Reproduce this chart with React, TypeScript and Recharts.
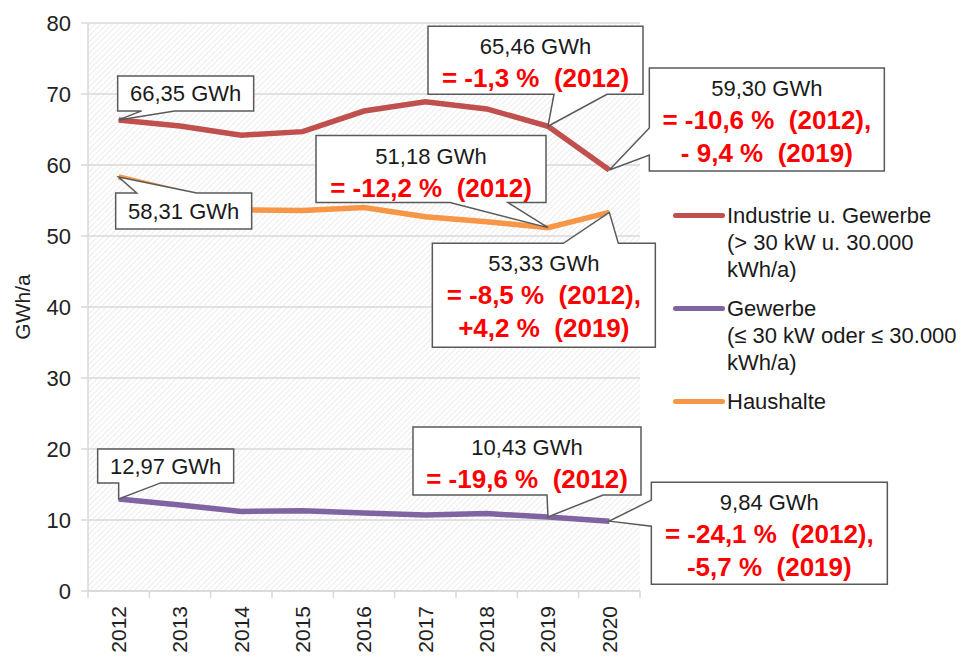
import React from "react";
import {
  LineChart,
  Line,
  XAxis,
  YAxis,
  CartesianGrid,
  Legend,
} from "recharts";

// data
const years = ["2012", "2013", "2014", "2015", "2016", "2017", "2018", "2019", "2020"];
const industrie = [66.35, 65.5, 64.2, 64.7, 67.6, 68.9, 67.9, 65.46, 59.3];
const gewerbe = [12.97, 12.1, 11.2, 11.3, 11.0, 10.7, 10.9, 10.43, 9.84];
const haushalte = [58.31, 56.2, 53.7, 53.6, 54.0, 52.7, 52.0, 51.18, 53.33];
const yTicks = [0, 10, 20, 30, 40, 50, 60, 70, 80];

const industrieLabel = ["Industrie u. Gewerbe", "(> 30 kW u. 30.000", "kWh/a)"];
const gewerbeLabel = ["Gewerbe", "(≤ 30 kW oder ≤ 30.000", "kWh/a)"];
const haushalteLabel = ["Haushalte"];

// callout texts per series, keyed by year index
const industrieNotes: Record<number, string[]> = {
  0: ["66,35 GWh"],
  7: ["65,46 GWh", "= -1,3 %  (2012)"],
  8: ["59,30 GWh", "= -10,6 %  (2012),", "- 9,4 %  (2019)"],
};
const haushalteNotes: Record<number, string[]> = {
  0: ["58,31 GWh"],
  7: ["51,18 GWh", "= -12,2 %  (2012)"],
  8: ["53,33 GWh", "= -8,5 %  (2012),", "+4,2 %  (2019)"],
};
const gewerbeNotes: Record<number, string[]> = {
  0: ["12,97 GWh"],
  7: ["10,43 GWh", "= -19,6 %  (2012)"],
  8: ["9,84 GWh", "= -24,1 %  (2012),", "-5,7 %  (2019)"],
};

const data = years.map((year, i) => ({
  year,
  industrie: industrie[i],
  gewerbe: gewerbe[i],
  haushalte: haushalte[i],
}));

const RED = "#C0504D";
const PURPLE = "#8064A2";
const ORANGE = "#F79646";
const GRID = "#d9d9d9";
const FONT = '"Liberation Sans", Arial, Helvetica, sans-serif';

const CHART_W = 980;
const CHART_H = 658;
const MARGIN = { top: 23, right: 340, bottom: 0, left: 0 };
const Y_W = 88;
const PLOT_W = CHART_W - MARGIN.left - MARGIN.right - Y_W;

type Side = "top" | "bottom" | "left";
interface BubbleLayout {
  dx: number;
  dy: number;
  w: number;
  h: number;
  side: Side;
  a1: number;
  a2: number;
}

// box position relative to the data point, tail base along one side
const industrieBoxes: Record<number, BubbleLayout> = {
  0: { dx: -1, dy: -44, w: 136, h: 35, side: "bottom", a1: 24, a2: 57 },
  7: { dx: -120, dy: -100, w: 215, h: 68, side: "bottom", a1: 126, a2: 179 },
  8: { dx: 40, dy: -102, w: 235, h: 103, side: "left", a1: 60, a2: 87 },
};
const haushalteBoxes: Record<number, BubbleLayout> = {
  0: { dx: -3, dy: 16, w: 136, h: 36, side: "top", a1: 21, a2: 81 },
  7: { dx: -232, dy: -92, w: 230, h: 67, side: "bottom", a1: 134, a2: 192 },
  8: { dx: -177, dy: 31, w: 223, h: 104, side: "top", a1: 131, a2: 186 },
};
const gewerbeBoxes: Record<number, BubbleLayout> = {
  0: { dx: -21, dy: -50, w: 136, h: 34, side: "bottom", a1: 21, a2: 63 },
  7: { dx: -135, dy: -90, w: 228, h: 68, side: "bottom", a1: 134, a2: 190 },
  8: { dx: 42, dy: -39, w: 236, h: 102, side: "left", a1: 18, a2: 44 },
};

function bubblePath(px: number, py: number, b: BubbleLayout) {
  const x = px + b.dx;
  const y = py + b.dy;
  const r = x + b.w;
  const btm = y + b.h;
  if (b.side === "bottom") {
    return `M${x},${y}H${r}V${btm}H${x + b.a2}L${px},${py}L${x + b.a1},${btm}H${x}Z`;
  }
  if (b.side === "top") {
    return `M${x},${y}H${x + b.a1}L${px},${py}L${x + b.a2},${y}H${r}V${btm}H${x}Z`;
  }
  return `M${x},${y}H${r}V${btm}H${x}V${y + b.a2}L${px},${py}L${x},${y + b.a1}Z`;
}

function makeCallout(notes: Record<number, string[]>, boxes: Record<number, BubbleLayout>) {
  return (props: any) => {
    const idx = props.index;
    const lines = notes[idx];
    const box = boxes[idx];
    const px = props.x ?? props.viewBox?.x;
    const py = props.y ?? props.viewBox?.y;
    if (!lines || !box || px == null || py == null) return <g />;
    const bx = px + box.dx;
    const by = py + box.dy;
    const cx = bx + box.w / 2;
    return (
      <g>
        <path d={bubblePath(px, py, box)} fill="#fff" stroke="#595959" strokeWidth={1.5} />
        {lines.map((t, i) => (
          <text
            key={i}
            x={cx}
            y={lines.length === 1 ? by + box.h / 2 + 8 : by + 28 + i * 33}
            textAnchor="middle"
            fontSize={i === 0 ? 22 : 26}
            fontWeight={i === 0 ? 400 : 700}
            fill={i === 0 ? "#1a1a1a" : "#ff0000"}
            style={{ whiteSpace: "pre" }}
          >
            {t}
          </text>
        ))}
      </g>
    );
  };
}

function YearTick({ x, y, payload, index }: any) {
  const bw = PLOT_W / years.length;
  return (
    <g>
      <line x1={x - bw / 2} x2={x - bw / 2} y1={y} y2={y + 7} stroke={GRID} strokeWidth={1.5} />
      {index === years.length - 1 && (
        <line x1={x + bw / 2} x2={x + bw / 2} y1={y} y2={y + 7} stroke={GRID} strokeWidth={1.5} />
      )}
      <text
        x={x}
        y={y + 15}
        dy="0.35em"
        textAnchor="end"
        fontSize={21}
        fill="#222"
        transform={`rotate(-90, ${x}, ${y + 15})`}
      >
        {payload.value}
      </text>
    </g>
  );
}

const legendItems = [
  { lines: industrieLabel, color: RED },
  { lines: gewerbeLabel, color: PURPLE },
  { lines: haushalteLabel, color: ORANGE },
];

function LegendBox() {
  return (
    <div style={{ fontFamily: FONT, fontSize: 22, color: "#1a1a1a", lineHeight: "27px" }}>
      {legendItems.map((item, i) => (
        <div key={i} style={{ display: "flex", alignItems: "flex-start", marginBottom: 12 }}>
          <div
            style={{
              width: 52,
              height: 5,
              marginTop: 11,
              borderRadius: 3,
              background: item.color,
              flexShrink: 0,
            }}
          />
          <div style={{ marginLeft: 2, whiteSpace: "nowrap" }}>
            {item.lines.map((l, j) => (
              <div key={j}>{l}</div>
            ))}
          </div>
        </div>
      ))}
    </div>
  );
}

export default function App() {
  return (
    <div
      style={{
        position: "absolute",
        left: 0,
        top: 0,
        width: CHART_W,
        height: CHART_H,
        background: "#fff",
        fontFamily: FONT,
      }}
    >
      <LineChart width={CHART_W} height={CHART_H} data={data} margin={MARGIN}>
        <defs>
          <pattern
            id="hatch"
            width="4"
            height="4"
            patternUnits="userSpaceOnUse"
            patternTransform="rotate(45)"
          >
            <rect width="4" height="4" fill="#fff" />
            <line x1="0" y1="0" x2="0" y2="4" stroke="#e4e4e4" strokeWidth="1.4" />
          </pattern>
        </defs>
        <CartesianGrid vertical={false} stroke={GRID} strokeWidth={1.5} fill="url(#hatch)" />
        <XAxis
          dataKey="year"
          scale="band"
          interval={0}
          height={67}
          tickSize={0}
          tickMargin={0}
          tickLine={false}
          axisLine={{ stroke: GRID, strokeWidth: 1.5 }}
          tick={<YearTick />}
        />
        <YAxis
          domain={[0, 80]}
          ticks={yTicks}
          interval={0}
          width={Y_W}
          tickSize={7}
          tickMargin={10}
          axisLine={{ stroke: GRID, strokeWidth: 1.5 }}
          tickLine={{ stroke: GRID, strokeWidth: 1.5 }}
          tick={{ fill: "#222", fontSize: 22 }}
          label={(p: any) => {
            const vb = p.viewBox || { x: 0, y: MARGIN.top, width: Y_W, height: 568 };
            const cy = vb.y + vb.height / 2;
            return (
              <text
                x={23}
                y={cy}
                textAnchor="middle"
                dy="0.35em"
                fill="#222"
                style={{ fontSize: 21 }}
                transform={`rotate(-90, 23, ${cy})`}
              >
                GWh/a
              </text>
            );
          }}
        />
        <Legend
          layout="horizontal"
          verticalAlign="middle"
          align="center"
          wrapperStyle={{ left: 673, top: 202, width: 300 }}
          content={() => <LegendBox />}
        />
        <Line
          dataKey="industrie"
          stroke={RED}
          strokeWidth={5.5}
          dot={false}
          activeDot={false}
          isAnimationActive={false}
          label={makeCallout(industrieNotes, industrieBoxes)}
        />
        <Line
          dataKey="gewerbe"
          stroke={PURPLE}
          strokeWidth={5.5}
          dot={false}
          activeDot={false}
          isAnimationActive={false}
          label={makeCallout(gewerbeNotes, gewerbeBoxes)}
        />
        <Line
          dataKey="haushalte"
          stroke={ORANGE}
          strokeWidth={5.5}
          dot={false}
          activeDot={false}
          isAnimationActive={false}
          label={makeCallout(haushalteNotes, haushalteBoxes)}
        />
      </LineChart>
    </div>
  );
}
